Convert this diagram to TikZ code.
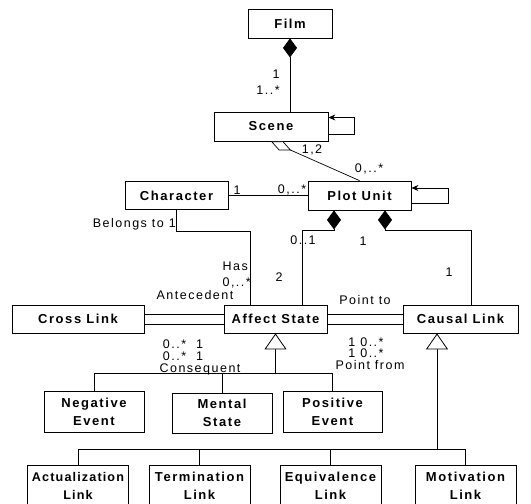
\documentclass[tikz,border=0pt]{standalone}
\usepackage{fontspec}
\setmainfont{Liberation Sans}
\newfontfamily\lsp[LetterSpace=12]{Liberation Sans}
\usetikzlibrary{arrows.meta,calc}
\begin{document}
\begin{tikzpicture}[x=1pt,y=-1pt,
  box/.style={draw,line width=0.8pt,inner sep=0pt,align=center,font=\lsp\bfseries\fontsize{13}{18}\selectfont},
  lbl/.style={inner sep=0pt,font=\lsp\fontsize{12.5}{14}\selectfont},
  con/.style={line width=0.7pt},
  comp/.style={con,{Diamond[length=19pt,width=14pt]}-},
  agg/.style={con,{Diamond[open,length=22pt,width=10pt,fill=white]}-},
  selfarr/.style={con,-{Stealth[length=7pt,width=6pt]}},
  gen/.style={line width=1pt,-{Triangle[open,length=16pt,width=22pt,line width=0.8pt,fill=white]}},
]
\fill[white] (0,0) rectangle (531,504);
\useasboundingbox (0,0) rectangle (531,504);

% classes
\node[box,minimum width=84pt,minimum height=29pt] (fi) at (290,23.5) {Film};
\node[box,minimum width=114pt,minimum height=29pt] (sc) at (271,126.5) {Scene};
\node[box,minimum width=103pt,minimum height=28pt] (ch) at (176.5,195.5) {Character};
\node[box,minimum width=103pt,minimum height=29pt] (pu) at (359.5,195.5) {Plot Unit};
\node[box,minimum width=132pt,minimum height=28pt] (cr) at (78,319) {Cross Link};
\node[box,minimum width=103pt,minimum height=28pt] (as) at (275.5,319) {Affect State};
\node[box,minimum width=115pt,minimum height=28pt] (cl) at (460.5,319) {Causal Link};
\node[box,minimum width=100pt,minimum height=41pt] (ne) at (94,411.5) {Negative\\Event};
\node[box,minimum width=100pt,minimum height=40pt] (ms) at (222,413) {Mental\\State};
\node[box,minimum width=99pt,minimum height=41pt] (pe) at (332.5,411.5) {Positive\\Event};
\node[box,minimum width=101pt,minimum height=42pt,font=\lsp\bfseries\fontsize{12.6}{18}\selectfont\addfontfeatures{LetterSpace=9}] (al) at (78,486) {Actualization\\Link};
\node[box,minimum width=101pt,minimum height=42pt] (tl) at (199.5,486) {Termination\\Link};
\node[box,minimum width=101pt,minimum height=42pt] (el) at (330.5,486) {Equivalence\\Link};
\node[box,minimum width=101pt,minimum height=42pt] (ml) at (465.5,486) {Motivation\\Link};

% Film - Scene
\draw[comp] (fi.south) -- (fi.south |- sc.north);
\node[lbl] (l1) at (276,74) {1};
\node[lbl] (l2) at (268,90) {1..*};

% Scene self association
\draw[selfarr] ($(sc.east)+(0,8)$) -- ++(26,0) -- ++(0,-17) -- ($(sc.east)+(0,-9)$);

% Scene - Plot Unit
\draw[agg] (sc.south) -- (pu.north);
\node[lbl] (l3) at (312,150) {1,2};
\node[lbl] (l4) at (369,169) {0,..*};

% Character - Plot Unit
\draw[con] (ch.east) -- (pu.west);
\node[lbl] (l5) at (237,190) {1};
\node[lbl] (l6) at (292,190) {0,..*};

% Plot Unit self association
\draw[selfarr] ($(pu.east)+(0,7.5)$) -- ++(37,0) -- ++(0,-15) -- ($(pu.east)+(0,-7.5)$);

% Character - Affect State
\draw[con] (ch.south) -- ++(0,21) -| ($(as.north)+(-25.5,0)$);
\node[lbl,anchor=east] (l7) at (176,224) {Belongs to 1};
\node[lbl,anchor=east] (l8) at (248,266) {Has};
\node[lbl,anchor=east] (l9) at (251,283) {0,..*};

% Plot Unit compositions
\draw[comp] ($(pu.south)+(-25.5,0)$) -- ++(0,20) -| ($(as.north)+(26.5,0)$);
\draw[comp] ($(pu.south)+(25.5,0)$) -- ++(0,20) -| ($(cl.north)+(10.5,0)$);
\node[lbl] (l10) at (303,240) {0..1};
\node[lbl] (l11) at (279,277) {2};
\node[lbl] (l12) at (363,241) {1};
\node[lbl] (l13) at (449,272) {1};

% Cross Link - Affect State
\draw[con] ($(cr.east)+(0,-5)$) -- ($(as.west)+(0,-5)$);
\draw[con] ($(cr.east)+(0,5)$) -- ($(as.west)+(0,5)$);
\node[lbl] (l14) at (195,295) {Antecedent};
\node[lbl] (l15) at (183,344) {0..*\ \ 1};
\node[lbl] (l16) at (183,356) {0..*\ \ 1};
\node[lbl] (l17) at (200,369) {Consequent};

% Affect State - Causal Link
\draw[con] ($(as.east)+(0,-5)$) -- ($(cl.west)+(0,-5)$);
\draw[con] ($(as.east)+(0,5)$) -- ($(cl.west)+(0,5)$);
\node[lbl] (l18) at (365,300) {Point to};
\node[lbl] (l19) at (366,342) {1 0..*};
\node[lbl] (l20) at (366,353) {1 0..*};
\node[lbl] (l21) at (370,365) {Point from};

% Affect State generalization
\coordinate (asj) at (275.5,373);
\draw[gen] (asj) -- (as.south);
\draw[con] (ne.north) |- (asj);
\draw[con] (ms.north) |- (asj);
\draw[con] (pe.north) |- (asj);

% Causal Link generalization
\coordinate (clj) at (437,449);
\draw[gen] (clj) -- (clj |- cl.south);
\draw[con] (al.north) |- (clj);
\draw[con] (tl.north) |- (clj);
\draw[con] (el.north) |- (clj);
\draw[con] (ml.north) |- (clj);
\end{tikzpicture}
\end{document}
